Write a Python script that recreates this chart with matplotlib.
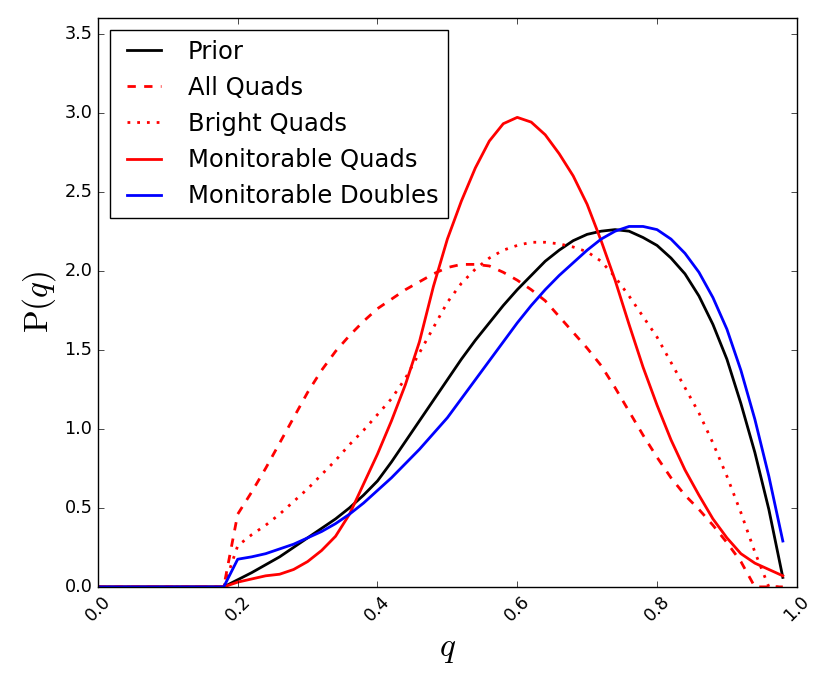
import matplotlib
matplotlib.use("Agg")
import matplotlib.pyplot as plt

plt.style.use("classic")

q = [0.00, 0.02, 0.04, 0.06, 0.08, 0.10, 0.12, 0.14, 0.16, 0.18,
     0.20, 0.22, 0.24, 0.26, 0.28, 0.30, 0.32, 0.34, 0.36, 0.38,
     0.40, 0.42, 0.44, 0.46, 0.48, 0.50, 0.52, 0.54, 0.56, 0.58,
     0.60, 0.62, 0.64, 0.66, 0.68, 0.70, 0.72, 0.74, 0.76, 0.78,
     0.80, 0.82, 0.84, 0.86, 0.88, 0.90, 0.92, 0.94, 0.96, 0.98]

zeros = [0.0] * 10

prior = zeros + [0.045, 0.09, 0.14, 0.19, 0.25, 0.31, 0.37, 0.43, 0.50, 0.58,
                 0.67, 0.79, 0.92, 1.05, 1.18, 1.31, 1.44, 1.56, 1.67, 1.78,
                 1.88, 1.97, 2.06, 2.13, 2.19, 2.23, 2.25, 2.26, 2.25, 2.21,
                 2.16, 2.08, 1.98, 1.84, 1.66, 1.44, 1.16, 0.85, 0.49, 0.06]

all_quads = zeros + [0.46, 0.60, 0.75, 0.91, 1.07, 1.23, 1.37, 1.49, 1.59, 1.68,
                     1.76, 1.82, 1.88, 1.93, 1.98, 2.02, 2.04, 2.04, 2.03, 1.99,
                     1.94, 1.88, 1.81, 1.71, 1.61, 1.51, 1.40, 1.26, 1.11, 0.96,
                     0.82, 0.69, 0.58, 0.49, 0.39, 0.28, 0.16, 0.0, 0.0, 0.0]

bright_quads = zeros + [0.26, 0.33, 0.39, 0.46, 0.54, 0.62, 0.71, 0.80, 0.90, 0.99,
                        1.09, 1.19, 1.32, 1.48, 1.64, 1.80, 1.92, 2.01, 2.08, 2.13,
                        2.16, 2.18, 2.18, 2.17, 2.15, 2.12, 2.06, 1.96, 1.84, 1.71,
                        1.58, 1.42, 1.26, 1.10, 0.91, 0.70, 0.47, 0.22, 0.0, 0.0]

mon_quads = zeros + [0.03, 0.05, 0.07, 0.08, 0.11, 0.16, 0.23, 0.32, 0.46, 0.65,
                     0.84, 1.05, 1.28, 1.55, 1.90, 2.20, 2.44, 2.65, 2.82, 2.93,
                     2.97, 2.94, 2.86, 2.74, 2.60, 2.42, 2.19, 1.94, 1.66, 1.39,
                     1.15, 0.93, 0.74, 0.58, 0.43, 0.31, 0.21, 0.15, 0.11, 0.07]

mon_doubles = zeros + [0.175, 0.19, 0.21, 0.24, 0.27, 0.31, 0.35, 0.40, 0.46, 0.53,
                       0.61, 0.69, 0.78, 0.87, 0.97, 1.07, 1.19, 1.31, 1.43, 1.55,
                       1.67, 1.78, 1.88, 1.97, 2.05, 2.13, 2.20, 2.25, 2.28, 2.28,
                       2.26, 2.20, 2.11, 1.99, 1.83, 1.63, 1.37, 1.06, 0.70, 0.29]

fig = plt.figure(figsize=(8.3, 6.84), dpi=100, facecolor="white")
ax = fig.add_axes([0.118, 0.142, 0.842, 0.832])

ax.plot(q, prior, color="k", ls="-", lw=2, label="Prior")
ax.plot(q, all_quads, color="r", ls="--", lw=2, label="All Quads")
ax.plot(q, bright_quads, color="r", ls=":", dashes=(2, 5), lw=2, label="Bright Quads")
ax.plot(q, mon_quads, color="r", ls="-", lw=2, label="Monitorable Quads")
ax.plot(q, mon_doubles, color="b", ls="-", lw=2, label="Monitorable Doubles")

ax.set_xlim(0, 1.0)
ax.set_ylim(0, 3.6)
ax.set_xticks([0.0, 0.2, 0.4, 0.6, 0.8, 1.0])
ax.set_yticks([0.0, 0.5, 1.0, 1.5, 2.0, 2.5, 3.0, 3.5])
ax.tick_params(labelsize=12.7)
plt.setp(ax.get_xticklabels(), rotation=45)

ax.set_xlabel(r"$q$", fontsize=24)
ax.set_ylabel(r"$\mathrm{P}(q)$", fontsize=24)

ax.legend(loc="upper left", fontsize=17.5)

fig.savefig("out.png", dpi=100, facecolor="white")
